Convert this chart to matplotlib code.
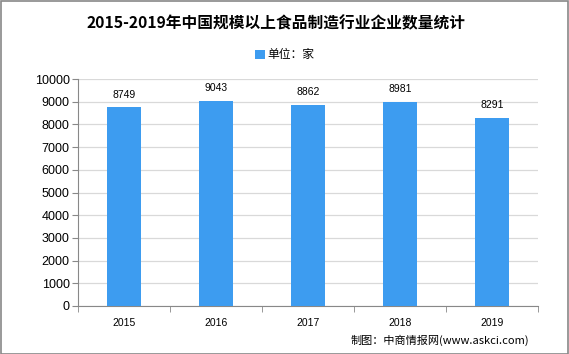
import matplotlib
matplotlib.use("Agg")
import matplotlib.pyplot as plt
from matplotlib.patches import Rectangle

plt.rcParams['font.family'] = ['Noto Sans CJK SC', 'DejaVu Sans']

years = ['2015', '2016', '2017', '2018', '2019']
values = [8749, 9043, 8862, 8981, 8291]
title = '2015-2019年中国规模以上食品制造行业企业数量统计'
legend_label = '单位：家'
source = '制图：中商情报网(www.askci.com)'
color = '#3d9cf0'

fig = plt.figure(figsize=(5.69, 3.54), dpi=100)
fig.patches.append(Rectangle((0.001, 0.001), 0.997, 0.997, transform=fig.transFigure,
                             fill=False, edgecolor='#888888', linewidth=1.2))
ax = fig.add_axes([0.137, 0.1356, 0.8085, 0.641])
x = list(range(len(years)))
bars = ax.bar(x, values, width=0.37, color=color, zorder=3, label=legend_label)
for xi, v in zip(x, values):
    ax.text(xi, v + 350, str(v), ha='center', va='bottom', fontsize=7.5, family='Liberation Sans')

ax.set_xlim(-0.5, len(years) - 0.5)
ax.set_ylim(0, 10000)
ax.set_yticks(range(0, 10001, 1000))
ax.set_yticklabels([str(t) for t in range(0, 10001, 1000)], family='Liberation Sans', fontsize=9)
ax.set_xticks(x)
ax.set_xticklabels(years, family='Liberation Sans', fontsize=7.5)
ax.set_xticks([i + 0.5 for i in range(-1, len(years))], minor=True)
ax.tick_params(axis='x', which='major', length=0, pad=9)
ax.tick_params(axis='x', which='minor', length=4, color='#888888')
ax.tick_params(axis='y', length=4, color='#888888', pad=2)
ax.grid(axis='y', color='#d9d9d9', linewidth=0.9, zorder=0)
for s in ['top', 'right']:
    ax.spines[s].set_visible(False)
for s in ['left', 'bottom']:
    ax.spines[s].set_color('#888888')

fig.text(0.485, 0.935, title, ha='center', va='center', fontsize=11.3, fontweight='bold')
fig.legend(handles=[bars], labels=[legend_label], loc='center', bbox_to_anchor=(0.5, 0.845),
           frameon=False, fontsize=8.5, handlelength=0.8, handleheight=0.8, handletextpad=0.2)
fig.text(0.93, 0.04, source, ha='right', va='center', fontsize=8)

fig.savefig('out.png', dpi=100)
